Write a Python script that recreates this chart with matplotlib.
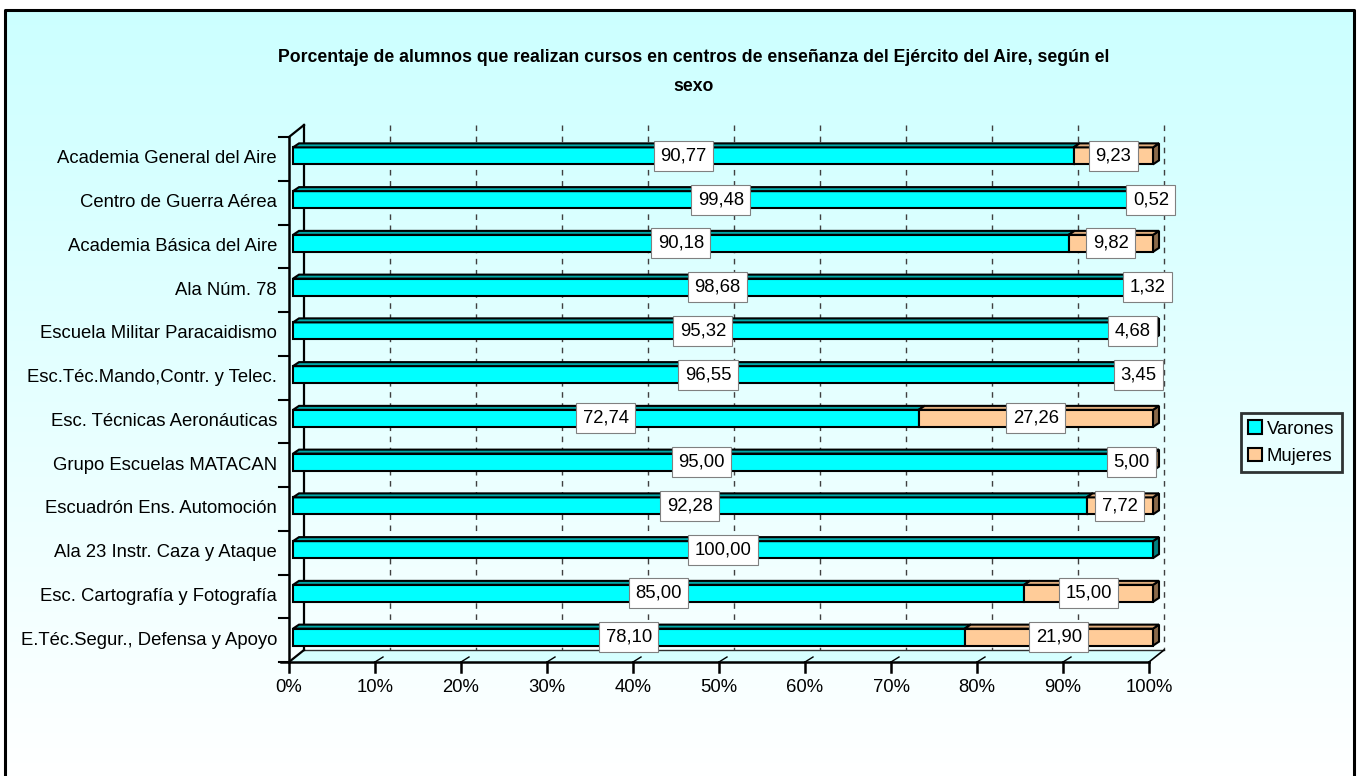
import numpy as np
import matplotlib
matplotlib.use("Agg")
import matplotlib.pyplot as plt
from matplotlib.patches import Polygon, Rectangle, Patch

plt.rcParams['font.family'] = ['Liberation Sans', 'DejaVu Sans']

# ── data ─────────────────────────────────────────────
centros = [
    "Academia General del Aire",
    "Centro de Guerra Aérea",
    "Academia Básica del Aire",
    "Ala Núm. 78",
    "Escuela Militar Paracaidismo",
    "Esc.Téc.Mando,Contr. y Telec.",
    "Esc. Técnicas Aeronáuticas",
    "Grupo Escuelas MATACAN",
    "Escuadrón Ens. Automoción",
    "Ala 23 Instr. Caza y Ataque",
    "Esc. Cartografía y Fotografía",
    "E.Téc.Segur., Defensa y Apoyo",
]
varones = [90.77, 99.48, 90.18, 98.68, 95.32, 96.55, 72.74, 95.00, 92.28, 100.00, 85.00, 78.10]
mujeres = [9.23, 0.52, 9.82, 1.32, 4.68, 3.45, 27.26, 5.00, 7.72, 0.00, 15.00, 21.90]
xticks = [0, 10, 20, 30, 40, 50, 60, 70, 80, 90, 100]

titulo = ("Porcentaje de alumnos que realizan cursos en centros de enseñanza "
          "del Ejército del Aire, según el\nsexo")

# ── estilo ───────────────────────────────────────────
C_VAR, C_VAR_TOP, C_VAR_SIDE = '#00FFFF', '#00A8A8', '#008080'
C_MUJ, C_MUJ_TOP, C_MUJ_SIDE = '#FFCC99', '#E0AE7E', '#8C6A4A'
FS = 13.3

W, H = 1357, 776
fig = plt.figure(figsize=(W / 100, H / 100), dpi=100)
fig.patch.set_facecolor('white')

# fondo con degradado y marco
bg = fig.add_axes([0, 0, 1, 1], zorder=0)
bg.set_xlim(0, W)
bg.set_ylim(H, 0)
bg.axis('off')
grad = np.linspace(0, 1, 256)[:, None]
cmap = matplotlib.colors.LinearSegmentedColormap.from_list('g', ['#CCFFFF', '#FFFFFF'])
bg.imshow(grad, cmap=cmap, aspect='auto', extent=(5, 1354, H + 5, 10), zorder=0)
bg.plot([5, 5, 1354, 1354], [H + 5, 10, 10, H + 5], color='black', lw=2.2, zorder=1,
        clip_on=False)

# ── ejes principales (coordenadas de datos) ──────────
ax = fig.add_axes([289 / W, 1 - 662 / H, 860 / W, 525 / H], zorder=2)
ax.set_xlim(0, 100)
ax.set_ylim(11.5, -0.5)
ax.axis('off')

px_x = 100 / 860      # unidades de datos por pixel (x)
px_y = 12 / 525       # filas por pixel (y)

WX, WY = 15 * px_x, -12 * px_y   # profundidad de la pared
FX, FY = 4 * px_x, -3 * px_y     # desplazamiento de la cara frontal de la barra
DX, DY = 6 * px_x, -4 * px_y     # profundidad de la barra
BH = 17 * px_y                   # alto de la barra

n = len(centros)
top, bot = -0.5, n - 0.5

# suelo
ax.add_patch(Polygon([(0, bot), (100, bot), (100 + WX, bot + WY), (WX, bot + WY)],
                     closed=True, facecolor='#D6FFFF', edgecolor='none', zorder=1,
                     clip_on=False))
# pared del fondo: lineas de division
for x in xticks[1:]:
    ax.plot([x + WX, x + WX], [top + WY, bot + WY], color='#404040', lw=1,
            ls=(0, (4, 4)), zorder=1, clip_on=False)
ax.plot([WX, 100 + WX], [bot + WY, bot + WY], color='#303030', lw=1, zorder=1, clip_on=False)
ax.plot([WX, WX], [top + WY, bot + WY], color='black', lw=1.6, zorder=1, clip_on=False)
# pared lateral izquierda
ax.plot([0, WX], [top, top + WY], color='black', lw=1.6, zorder=1, clip_on=False)
ax.plot([0, WX], [bot, bot + WY], color='black', lw=1.6, zorder=1, clip_on=False)
ax.plot([100, 100 + WX], [bot, bot + WY], color='black', lw=1.2, zorder=1, clip_on=False)
# marcas en el suelo
for x in xticks[1:-1]:
    ax.plot([x, x + 8 * px_x], [bot, bot - 5 * px_y], color='black', lw=1, zorder=1,
            clip_on=False)

# ejes frontales
ax.plot([0, 0], [top, bot], color='black', lw=1.8, zorder=5, clip_on=False)
ax.plot([-8 * px_x, 100], [bot, bot], color='black', lw=1.8, zorder=5, clip_on=False)
for k in range(n + 1):
    ax.plot([-10 * px_x, 0], [top + k, top + k], color='black', lw=1.5, zorder=5,
            clip_on=False)
for x in xticks:
    ax.plot([x, x], [bot, bot + 10 * px_y], color='black', lw=1.8, zorder=5, clip_on=False)
    ax.text(x, bot + 26 * px_y, f"{x}%", ha='center', va='center', fontsize=FS, zorder=5)

for i, name in enumerate(centros):
    ax.text(-12 * px_x, i, name, ha='right', va='center', fontsize=FS, zorder=5)


def barra(x0, x1, y, cf, ct, cs):
    yt = y + FY - BH / 2
    yb = y + FY + BH / 2
    a, b = x0 + FX, x1 + FX
    kw = dict(edgecolor='black', lw=1.5, zorder=3, clip_on=False, joinstyle='miter')
    ax.add_patch(Polygon([(b, yt), (b, yb), (b + DX, yb + DY), (b + DX, yt + DY)],
                         closed=True, facecolor=cs, **kw))
    ax.add_patch(Rectangle((a, yt), b - a, BH, facecolor=cf, **kw))
    ax.add_patch(Polygon([(a, yt), (b, yt), (b + DX, yt + DY), (a + DX, yt + DY)],
                         closed=True, facecolor=ct, **kw))


def etiqueta(x, y, v):
    ax.text(x + FX, y + FY, f"{v:.2f}".replace('.', ','), ha='center', va='center',
            fontsize=FS, zorder=6,
            bbox=dict(boxstyle='square,pad=0.35', facecolor='white', edgecolor='#808080',
                      lw=0.8))


for i in range(n):
    v, m = varones[i], mujeres[i]
    barra(0, v, i, C_VAR, C_VAR_TOP, C_VAR_SIDE)
    if m > 0:
        barra(v, v + m, i, C_MUJ, C_MUJ_TOP, C_MUJ_SIDE)
for i in range(n):
    v, m = varones[i], mujeres[i]
    etiqueta(v / 2, i, v)
    if m > 0:
        etiqueta(v + m / 2, i, m)

# título
fig.text(694 / W, 1 - 72 / H, titulo, ha='center', va='center', fontsize=12.7,
         fontweight='bold', linespacing=1.85)

# leyenda
handles = [Patch(facecolor=C_VAR, edgecolor='black', lw=1.5, label='Varones'),
           Patch(facecolor=C_MUJ, edgecolor='black', lw=1.5, label='Mujeres')]
leg = fig.legend(handles=handles, loc='upper left', bbox_to_anchor=(1241 / W, 1 - 413 / H),
                 frameon=True, fancybox=False, fontsize=FS, handlelength=0.75,
                 handleheight=0.75, handletextpad=0.25, borderpad=0.4, labelspacing=0.55,
                 borderaxespad=0)
leg.get_frame().set_edgecolor('black')
leg.get_frame().set_linewidth(2)
leg.get_frame().set_facecolor('#E8FFFF')
leg.set_zorder(10)

fig.savefig('out.png', dpi=100)
